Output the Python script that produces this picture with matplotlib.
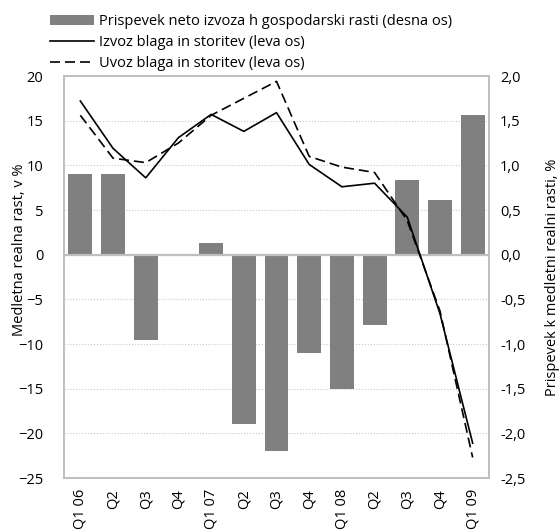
import numpy as np
import matplotlib.pyplot as plt
import matplotlib.ticker as mticker

plt.rcParams['font.family'] = ['Open Sans', 'DejaVu Sans']

quarters = ['Q1 06', 'Q2', 'Q3', 'Q4', 'Q1 07', 'Q2', 'Q3', 'Q4',
            'Q1 08', 'Q2', 'Q3', 'Q4', 'Q1 09']
# contribution of net exports (right axis)
net_exports = [0.90, 0.90, -0.95, -0.02, 0.13, -1.90, -2.20, -1.10,
               -1.50, -0.79, 0.84, 0.61, 1.56]
# exports / imports of goods and services (left axis)
exports = [17.2, 11.9, 8.6, 13.1, 15.7, 13.8, 15.9, 10.1,
           7.6, 8.0, 4.2, -6.6, -21.1]
imports = [15.6, 10.8, 10.3, 12.5, 15.6, 17.5, 19.4, 11.0,
           9.8, 9.2, 3.8, -6.3, -22.7]

lbl_bar = 'Prispevek neto izvoza h gospodarski rasti (desna os)'
lbl_exp = 'Izvoz blaga in storitev (leva os)'
lbl_imp = 'Uvoz blaga in storitev (leva os)'

grid_col = '#c8c8c8'
frame_col = '#bfbfbf'

fig = plt.figure(figsize=(5.59, 5.30), dpi=100)
ax = fig.add_axes([64 / 559, 1 - 478 / 530, 425 / 559, 402 / 530])
ax2 = ax.twinx()

x = np.arange(len(quarters))

bars = ax2.bar(x, net_exports, 0.73, color='#808080', zorder=2, label=lbl_bar)
ax2.axhline(0, color=frame_col, lw=1.6, zorder=3)
ax2.set_ylim(-2.5, 2.0)
ax2.set_yticks(np.arange(-2.5, 2.01, 0.5))
ax2.yaxis.set_major_formatter(mticker.FuncFormatter(lambda v, p: ('%.1f' % v).replace('.', ',')))
ax2.set_ylabel('Prispevek k medletni realni rasti, %', fontsize=10.5, labelpad=14)

# grid on the bar axis so it stays behind the bars
ax2.set_xticks(np.arange(-0.5, len(quarters), 1.0), minor=True)
ax2.grid(True, which='major', axis='y', ls=':', color=grid_col, lw=0.8, zorder=0)
ax2.grid(True, which='minor', axis='x', ls=':', color=grid_col, lw=0.8, zorder=0)
ax2.set_axisbelow(True)

l1, = ax.plot(x, exports, color='black', lw=1.2, label=lbl_exp)
l2, = ax.plot(x, imports, color='black', lw=1.2, ls=(0, (6, 3)), label=lbl_imp)
ax.set_zorder(ax2.get_zorder() + 1)
ax.patch.set_visible(False)

ax.set_ylim(-25, 20)
ax.set_yticks(np.arange(-25, 21, 5))
ax.set_xlim(-0.5, len(quarters) - 0.5)
ax.set_xticks(x)
ax.set_xticklabels(quarters, rotation=90)
ax.set_ylabel('Medletna realna rast, v %', fontsize=10.5)
ax.yaxis.set_label_coords(-0.088, 0.567)

for a in (ax, ax2):
    a.tick_params(axis='both', which='both', length=0, labelsize=10.5, pad=8)
    for s in a.spines.values():
        s.set_color(frame_col)
        s.set_linewidth(1.2)
ax.tick_params(axis='y', pad=15)
ax2.tick_params(axis='x', which='minor', length=0)

fig.legend([bars, l1, l2], [lbl_bar, lbl_exp, lbl_imp],
           loc='upper left', bbox_to_anchor=(44 / 559, 0.985), frameon=False,
           fontsize=10.5, handlelength=3.0, handletextpad=0.35,
           labelspacing=0.42, borderaxespad=0)

fig.savefig('out.png', dpi=100)
